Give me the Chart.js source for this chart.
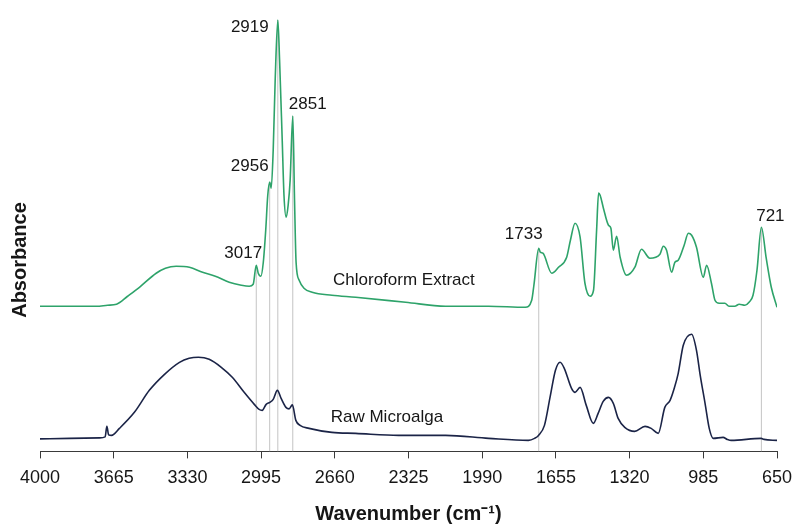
<!DOCTYPE html>
<html>
<head>
<meta charset="utf-8">
<title>FTIR spectra</title>
<script src="https://cdn.jsdelivr.net/npm/chart.js@4.4.1/dist/chart.umd.min.js"></script>
<style>
  html, body { margin: 0; padding: 0; background: #fff; }
  #wrap { width: 798px; height: 524px; }
</style>
</head>
<body>
<div id="wrap"><canvas id="ftirChart"></canvas></div>
<script>
// Chloroform extract trace (offset upwards), wavenumber in cm-1 / absorbance in a.u.
const extractWavenumbers = [4000, 3744, 3693, 3652, 3602, 3548, 3472, 3430, 3381, 3321, 3261, 3203, 3140, 3085, 3049,
  3031, 3017, 3008, 2996, 2985, 2974, 2965, 2956, 2949, 2940, 2931, 2919, 2911, 2899, 2891, 2881, 2872, 2863, 2851,
  2843, 2836, 2822, 2800, 2763, 2673, 2565, 2338, 2157, 1961, 1794, 1765, 1755, 1733, 1726, 1714, 1674, 1643, 1606,
  1589, 1568, 1545, 1523, 1499, 1484, 1470, 1461, 1454, 1439, 1416, 1405, 1394, 1379, 1363, 1334, 1296, 1266, 1228,
  1182, 1167, 1152, 1129, 1114, 1099, 1072, 1053, 1038, 1016, 985, 970, 948, 932, 913, 887, 868, 842, 822, 796, 777,
  759, 741, 721, 699, 676, 650];
const extractAbsorbance = [1.45, 1.45, 1.46, 1.47, 1.55, 1.64, 1.78, 1.83, 1.85, 1.84, 1.79, 1.75, 1.69, 1.66, 1.65,
  1.67, 1.86, 1.78, 1.75, 1.89, 2.21, 2.55, 2.69, 2.63, 3.01, 3.71, 4.31, 3.91, 3.11, 2.56, 2.34, 2.46, 2.71, 3.35,
  2.51, 1.89, 1.71, 1.63, 1.59, 1.56, 1.54, 1.49, 1.45, 1.45, 1.44, 1.51, 1.66, 2.03, 1.99, 1.98, 1.78, 1.84, 1.94,
  2.11, 2.28, 2.14, 1.68, 1.55, 1.61, 2.21, 2.58, 2.56, 2.43, 2.26, 2.23, 2.01, 2.15, 1.94, 1.76, 1.84, 2.02, 1.93,
  1.97, 2.05, 2.01, 1.79, 1.89, 1.91, 2.06, 2.18, 2.16, 2.04, 1.74, 1.86, 1.68, 1.51, 1.48, 1.48, 1.45, 1.45, 1.47,
  1.46, 1.49, 1.56, 1.81, 2.24, 1.93, 1.64, 1.44];

// Raw microalga trace
const rawWavenumbers = [4000, 3865, 3729, 3704, 3696, 3688, 3675, 3639, 3571, 3503, 3434, 3366, 3322, 3280, 3231,
  3176, 3126, 3072, 3026, 3004, 2990, 2972, 2955, 2940, 2921, 2904, 2882, 2868, 2853, 2837, 2818, 2777, 2673, 2565,
  2370, 2156, 1961, 1780, 1752, 1734, 1707, 1680, 1657, 1636, 1617, 1584, 1568, 1545, 1517, 1485, 1463, 1440, 1416,
  1394, 1372, 1342, 1297, 1250, 1222, 1190, 1160, 1136, 1117, 1099, 1076, 1038, 1016, 999, 977, 958, 940, 895, 876,
  858, 722, 709, 650];
const rawAbsorbance = [0.125, 0.13, 0.135, 0.145, 0.25, 0.165, 0.16, 0.23, 0.39, 0.61, 0.77, 0.89, 0.93, 0.94, 0.92,
  0.84, 0.74, 0.59, 0.47, 0.42, 0.41, 0.47, 0.49, 0.52, 0.61, 0.53, 0.44, 0.425, 0.465, 0.31, 0.26, 0.23, 0.19, 0.18,
  0.16, 0.16, 0.13, 0.11, 0.13, 0.16, 0.26, 0.56, 0.81, 0.89, 0.83, 0.63, 0.59, 0.64, 0.46, 0.28, 0.38, 0.5, 0.54,
  0.48, 0.33, 0.24, 0.2, 0.25, 0.23, 0.18, 0.44, 0.51, 0.63, 0.78, 1.06, 1.17, 1.01, 0.76, 0.48, 0.23, 0.13, 0.14,
  0.12, 0.11, 0.13, 0.12, 0.11];

const xTickValues = [4000, 3665, 3330, 2995, 2660, 2325, 1990, 1655, 1320, 985, 650];
const peakBands = [3017, 2956, 2919, 2851, 1733, 721];
const seriesNames = ['Chloroform Extract', 'Raw Microalga'];
const yTitle = 'Absorbance';

// label placement (pixel offsets from the band top, and data anchors for the trace names)
const bandLabelOffsets = { 3017: [-13, -12], 2956: [-20, -16], 2919: [-28, 7], 2851: [15, -12], 1733: [-15, -14], 721: [9, -11] };
const seriesNameAnchors = [[2346, 1.71], [2423, 0.345]];

const textFont = '"Liberation Sans", Arial, sans-serif';

function toPoints(xs, ys) {
  return xs.map((x, i) => ({ x: x, y: ys[i] }));
}

function bandTop(band) {
  return extractAbsorbance[extractWavenumbers.indexOf(band)];
}

// thin grey markers from the axis up to each labelled band
const bandMarkers = peakBands.map(band => ({
  data: [{ x: band, y: 0 }, { x: band, y: bandTop(band) }],
  borderColor: '#c4c4c4',
  borderWidth: 1,
  pointRadius: 0
}));

const labelPlugin = {
  id: 'bandLabels',
  afterDatasetsDraw(chart) {
    const ctx = chart.ctx;
    const x = chart.scales.x;
    const y = chart.scales.y;
    ctx.save();
    ctx.font = '17px ' + textFont;
    ctx.fillStyle = '#161616';
    ctx.textAlign = 'center';
    ctx.textBaseline = 'middle';
    peakBands.forEach(band => {
      const off = bandLabelOffsets[band];
      ctx.fillText(String(band), x.getPixelForValue(band) + off[0], y.getPixelForValue(bandTop(band)) + off[1]);
    });
    seriesNames.forEach((name, i) => {
      const a = seriesNameAnchors[i];
      ctx.fillText(name, x.getPixelForValue(a[0]), y.getPixelForValue(a[1]));
    });
    // vertical axis title, sitting a little below the middle of the plot
    ctx.font = 'bold 20px ' + textFont;
    ctx.translate(20, 260);
    ctx.rotate(-Math.PI / 2);
    ctx.fillText(yTitle, 0, 0);
    ctx.restore();
  }
};

new Chart(document.getElementById('ftirChart'), {
  type: 'line',
  data: {
    datasets: [
      {
        label: seriesNames[0],
        data: toPoints(extractWavenumbers, extractAbsorbance),
        borderColor: '#2ea36a',
        borderWidth: 1.6,
        pointRadius: 0,
        cubicInterpolationMode: 'monotone'
      },
      {
        label: seriesNames[1],
        data: toPoints(rawWavenumbers, rawAbsorbance),
        borderColor: '#1b2447',
        borderWidth: 1.6,
        pointRadius: 0,
        cubicInterpolationMode: 'monotone'
      }
    ].concat(bandMarkers)
  },
  options: {
    responsive: true,
    maintainAspectRatio: false,
    animation: false,
    layout: { padding: { left: 40, right: 21, top: 11, bottom: 0 } },
    plugins: {
      legend: { display: false },
      tooltip: { enabled: false }
    },
    scales: {
      x: {
        type: 'linear',
        reverse: true,
        min: 650,
        max: 4000,
        afterBuildTicks: scale => {
          scale.ticks = xTickValues.map(v => ({ value: v }));
        },
        // end labels fit inside the layout padding already
        afterFit: scale => {
          scale.paddingLeft = 0;
          scale.paddingRight = 0;
        },
        ticks: {
          autoSkip: false,
          maxRotation: 0,
          padding: 9,
          color: '#161616',
          font: { size: 18, family: textFont },
          callback: v => String(v)
        },
        grid: { display: true, drawOnChartArea: false, drawTicks: true, tickLength: 7, color: '#3a3a3a' },
        border: { display: true, color: '#3a3a3a', width: 1 },
        title: {
          display: true,
          text: 'Wavenumber (cm⁻¹)',
          color: '#161616',
          font: { size: 20, weight: 'bold', family: textFont, lineHeight: 1 },
          padding: { top: 6, bottom: 0 }
        }
      },
      y: {
        display: false,
        min: 0,
        max: 4.4
      }
    }
  },
  plugins: [labelPlugin]
});
</script>
</body>
</html>
